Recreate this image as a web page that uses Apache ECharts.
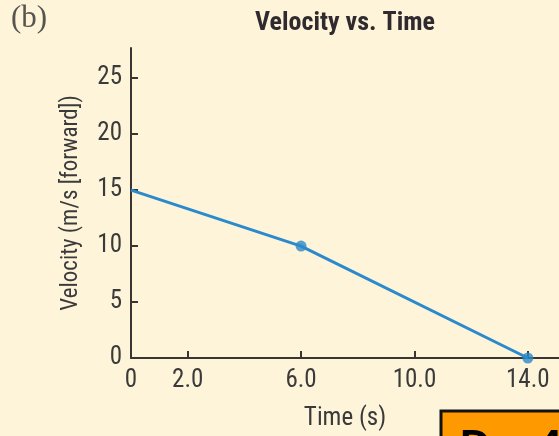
<!DOCTYPE html>
<html>
<head>
<meta charset="utf-8">
<script src="https://cdn.jsdelivr.net/npm/echarts@6/dist/echarts.min.js"></script>
<style>
html,body{margin:0;padding:0;background:#fdf4da;}
#c{width:559px;height:436px;}
</style>
</head>
<body>
<div id="c"></div>
<script>
var times = [0, 6, 14];
var velocities = [15, 10, 0];
var markerTimes = [6, 14];
var markerVelocities = [10, 0];
var xTickValues = [0, 2, 6, 10, 14];
var xTickLabels = ['0', '2.0', '6.0', '10.0', '14.0'];
var yTickValues = [0, 5, 10, 15, 20, 25];

var narrow = '"Liberation Sans Narrow", "Roboto Condensed", "Arial Narrow", sans-serif';
var chart = echarts.init(document.getElementById('c'));
chart.setOption({
  backgroundColor: '#fdf4da',
  animation: false,
  title: {
    text: 'Velocity vs. Time',
    left: 340, top: 5, textAlign: 'center',
    textStyle: {fontFamily: narrow, fontWeight: 'bold', fontSize: 26, color: '#2e2a2e'}
  },
  grid: {left: 131, right: 0, top: 48, bottom: 77},
  xAxis: {
    type: 'value', min: 0, max: 15.1,
    name: 'Time (s)', nameLocation: 'middle', nameGap: 48,
    nameTextStyle: {fontFamily: narrow, fontSize: 25, color: '#3a3a3a'},
    axisLine: {lineStyle: {color: '#3a3530', width: 2}},
    axisTick: {inside: true, length: 7, lineStyle: {color: '#3a3530', width: 2}, customValues: [2, 6, 10, 14]},
    axisLabel: {
      customValues: xTickValues,
      formatter: function (v) { var i = xTickValues.indexOf(v); return i >= 0 ? xTickLabels[i] : ''; },
      fontFamily: narrow, fontSize: 25, color: '#3a3a3a', margin: 10
    },
    splitLine: {show: false}
  },
  yAxis: {
    type: 'value', min: 0, max: 27.7,
    name: 'Velocity (m/s [forward])', nameLocation: 'middle', nameGap: 48,
    nameTextStyle: {fontFamily: narrow, fontSize: 23, color: '#3a3a3a'},
    axisLine: {lineStyle: {color: '#3a3530', width: 2}},
    axisTick: {inside: true, length: 7, lineStyle: {color: '#3a3530', width: 2}, customValues: [5, 10, 15, 20, 25]},
    axisLabel: {
      customValues: yTickValues,
      fontFamily: narrow, fontSize: 25, color: '#3a3a3a', margin: 9
    },
    splitLine: {show: false}
  },
  series: [
    {
      type: 'line',
      data: times.map(function (t, i) { return [t, velocities[i]]; }),
      symbol: 'none',
      lineStyle: {color: '#2a8acb', width: 3},
      clip: false
    },
    {
      type: 'scatter',
      data: markerTimes.map(function (t, i) { return [t, markerVelocities[i]]; }),
      symbolSize: 11,
      itemStyle: {color: '#2a8acb'},
      clip: false
    }
  ],
  graphic: [
    {
      type: 'text', left: 11, top: 3,
      style: {text: '(b)', font: '31px "Liberation Serif", "DejaVu Serif", serif', fill: '#57534f'}
    },
    {
      type: 'rect', shape: {x: 441, y: 411, width: 140, height: 60},
      style: {fill: '#ff9900', stroke: '#111', lineWidth: 3}
    },
    {
      type: 'text', left: 460, top: 426,
      style: {text: 'D = 4', font: 'bold 42px sans-serif', fill: '#000'}
    }
  ]
});
</script>
</body>
</html>
